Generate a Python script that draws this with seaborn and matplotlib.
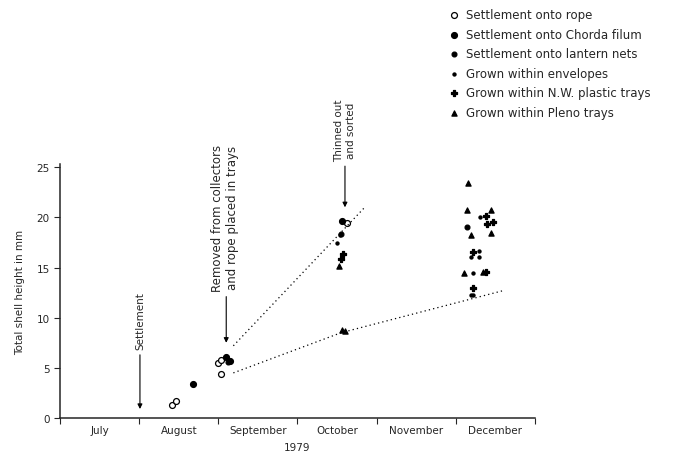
import matplotlib
matplotlib.use("Agg")
import matplotlib.pyplot as plt
import seaborn as sns
import pandas as pd

# x in months after 1 July 1979 (0 = start of July), y in mm
months = ["July", "August", "September", "October", "November", "December"]

rope_x = [1.42, 1.47, 2.00, 2.03, 2.04, 3.63]
rope_y = [1.3, 1.7, 5.5, 5.8, 4.35, 19.4]

chorda_x = [1.68, 2.10, 2.15, 3.56]
chorda_y = [3.4, 6.1, 5.7, 19.6]

lantern_x = [2.12, 3.55, 5.14]
lantern_y = [5.6, 18.3, 19.0]

envelope_x = [3.54, 3.50, 5.29, 5.29, 5.19, 5.22, 5.19, 5.22, 5.30]
envelope_y = [18.2, 17.4, 16.6, 16.0, 16.0, 14.5, 12.3, 12.3, 20.0]

nw_x = [3.55, 3.58, 5.38, 5.47, 5.40, 5.22, 5.22, 5.38]
nw_y = [15.8, 16.3, 20.1, 19.5, 19.3, 16.5, 13.0, 14.6]

pleno_x = [3.56, 3.60, 3.52, 5.16, 5.14, 5.44, 5.44, 5.19, 5.11, 5.34]
pleno_y = [8.8, 8.7, 15.2, 23.4, 20.7, 20.7, 18.4, 18.2, 14.5, 14.6]

upper_x = [2.19, 3.85]
upper_y = [7.2, 21.0]
lower_x = [2.19, 3.55, 5.60]
lower_y = [4.5, 8.5, 12.7]

sns.set_style("ticks")
plt.rcParams['font.family'] = ['DejaVu Sans']

fig = plt.figure(figsize=(6.78, 4.6), dpi=100)
ax = fig.add_axes([0.0885, 0.089, 0.7005, 0.552])

series = [
    ("Settlement onto rope", rope_x, rope_y, "o", "white", 18),
    ("Settlement onto Chorda filum", chorda_x, chorda_y, "o", "black", 18),
    ("Settlement onto lantern nets", lantern_x, lantern_y, "o", "black", 12),
    ("Grown within envelopes", envelope_x, envelope_y, "o", "black", 5),
    ("Grown within N.W. plastic trays", nw_x, nw_y, "P", "black", 14),
    ("Grown within Pleno trays", pleno_x, pleno_y, "^", "black", 14),
]
for name, xs, ys, m, fc, s in series:
    df = pd.DataFrame({"x": xs, "y": ys})
    sns.scatterplot(data=df, x="x", y="y", ax=ax, marker=m, s=s,
                    facecolor=fc, edgecolor="black", linewidth=0.9, label=name)

ax.plot(upper_x, upper_y, ls=(0, (1, 2.5)), color="black", lw=0.9)
ax.plot(lower_x, lower_y, ls=(0, (1, 2.5)), color="black", lw=0.9)

ax.set_xlim(0, 6)
ax.set_ylim(0, 25.3)
ax.set_xticks(range(7))
ax.set_xticklabels([])
ax.set_xticks([i + 0.5 for i in range(6)], minor=True)
ax.set_xticklabels(months, minor=True, fontsize=7.5)
ax.tick_params(axis="x", which="minor", length=0, pad=5)
ax.tick_params(axis="x", which="major", length=4, width=0.8, direction="out")
ax.set_yticks([0, 5, 10, 15, 20, 25])
ax.tick_params(axis="y", labelsize=7.5, length=4, width=0.8)
ax.set_xlabel("1979", fontsize=7.5, labelpad=5)
ax.set_ylabel("Total shell height in mm", fontsize=7.5, labelpad=8)
sns.despine(ax=ax)
for sp in ("left", "bottom"):
    ax.spines[sp].set_linewidth(1.1)

arrow = dict(arrowstyle="-|>", color="black", lw=0.8, shrinkA=0, shrinkB=0,
             mutation_scale=7)
ax.annotate("", xy=(1.01, 0.9), xytext=(1.01, 6.3), arrowprops=arrow)
ax.text(1.01, 6.9, "Settlement", rotation=90, ha="center", va="bottom",
        fontsize=7.5)
ax.annotate("", xy=(2.1, 7.5), xytext=(2.1, 12.1), arrowprops=arrow,
            annotation_clip=False)
ax.text(2.08, 12.7, "Removed from collectors\nand rope placed in trays",
        rotation=90, ha="center", va="bottom", fontsize=8.5,
        linespacing=1.2, clip_on=False)
ax.annotate("", xy=(3.6, 21.0), xytext=(3.6, 25.1), arrowprops=arrow,
            annotation_clip=False)
ax.text(3.6, 25.6, "Thinned out\nand sorted", rotation=90, ha="center",
        va="bottom", fontsize=7.5, linespacing=1.2, clip_on=False)

ax.legend(loc="upper left", bbox_to_anchor=(0.654, 0.99),
          bbox_transform=fig.transFigure, frameon=False, fontsize=8.5,
          handletextpad=0.5, labelspacing=0.55, handlelength=1.0,
          borderaxespad=0)

fig.savefig("out.png", dpi=100)
